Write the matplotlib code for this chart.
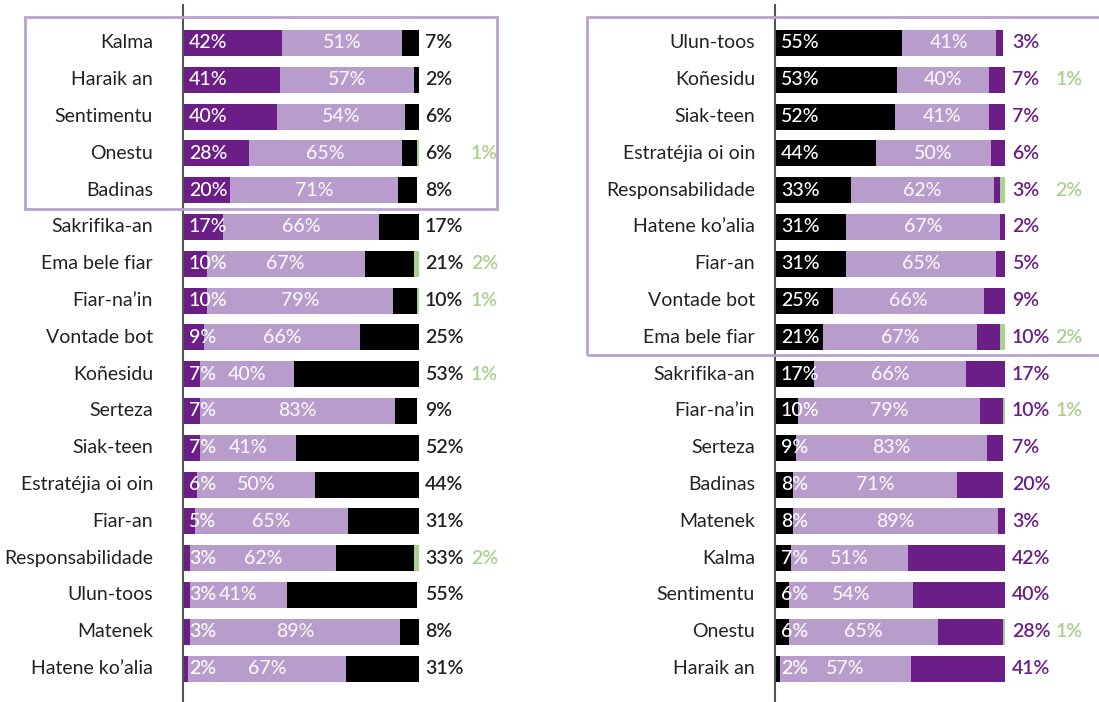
import matplotlib
matplotlib.use("Agg")
import matplotlib.pyplot as plt
from matplotlib.patches import Rectangle

plt.rcParams['font.family'] = ['Lato', 'DejaVu Sans']

# ---- data (left panel order) ----
categories = ["Kalma", "Haraik an", "Sentimentu", "Onestu", "Badinas",
              "Sakrifika-an", "Ema bele fiar", "Fiar-na\u2019in", "Vontade bot",
              "Koñesidu", "Serteza", "Siak-teen", "Estratéjia oi oin", "Fiar-an",
              "Responsabilidade", "Ulun-toos", "Matenek", "Hatene ko\u2019alia"]
purple = [42, 41, 40, 28, 20, 17, 10, 10, 9, 7, 7, 7, 6, 5, 3, 3, 3, 2]
light = [51, 57, 54, 65, 71, 66, 67, 79, 66, 40, 83, 41, 50, 65, 62, 41, 89, 67]
black = [7, 2, 6, 6, 8, 17, 21, 10, 25, 53, 9, 52, 44, 31, 33, 55, 8, 31]
green = [0, 0, 0, 1, 0, 0, 2, 1, 0, 1, 0, 0, 0, 0, 2, 0, 0, 0]

right_order = ["Ulun-toos", "Koñesidu", "Siak-teen", "Estratéjia oi oin",
               "Responsabilidade", "Hatene ko\u2019alia", "Fiar-an", "Vontade bot",
               "Ema bele fiar", "Sakrifika-an", "Fiar-na\u2019in", "Serteza",
               "Badinas", "Matenek", "Kalma", "Sentimentu", "Onestu", "Haraik an"]

C_PURPLE = '#6a1e86'
C_LIGHT = '#b89ccc'
C_BLACK = '#000000'
C_GREEN = '#a9d08e'
C_TEXT = '#222222'
C_BOX = '#b9a4cc'

W, H = 1099, 702
fig = plt.figure(figsize=(W / 100, H / 100), dpi=100)

row0, step = 43, 36.8
top_px, bot_px = 5, 702
y_top = (top_px - row0) / step
y_bot = (bot_px - row0) / step


def make_ax(x0_px, w100_px):
    ax = fig.add_axes([x0_px / W, 1 - bot_px / H, w100_px / W, (bot_px - top_px) / H])
    ax.set_xlim(0, 100)
    ax.set_ylim(y_bot, y_top)
    for s in ['top', 'right', 'bottom']:
        ax.spines[s].set_visible(False)
    ax.spines['left'].set_color('#555555')
    ax.spines['left'].set_linewidth(1.5)
    ax.spines['left'].set_zorder(5)
    ax.set_xticks([])
    ax.set_yticks([])
    ax.patch.set_alpha(0)
    return ax


FS = 14
bh = 0.71

# ---- left panel ----
axL = make_ax(183, 236)
ys = list(range(len(categories)))
axL.barh(ys, purple, height=bh, color=C_PURPLE)
axL.barh(ys, light, left=purple, height=bh, color=C_LIGHT)
lb2 = [a + b for a, b in zip(purple, light)]
axL.barh(ys, black, left=lb2, height=bh, color=C_BLACK)
lb3 = [a + b for a, b in zip(lb2, black)]
axL.barh(ys, green, left=lb3, height=bh, color=C_GREEN)
for i, cat in enumerate(categories):
    axL.text(-30 / 2.36, i, cat, ha='right', va='center', fontsize=FS, color=C_TEXT)
    axL.text(2.5, i, f"{purple[i]}%", ha='left', va='center', fontsize=FS,
             color='white', fontweight='medium')
    axL.text(purple[i] + light[i] / 2, i, f"{light[i]}%", ha='center', va='center',
             fontsize=FS, color='white', alpha=0.9, fontweight='medium')
    axL.text(102.5, i, f"{black[i]}%", ha='left', va='center', fontsize=FS,
             color=C_TEXT, fontweight='semibold', clip_on=False)
    if green[i]:
        axL.text(122, i, f"{green[i]}%", ha='left', va='center', fontsize=FS,
                 color=C_GREEN, fontweight='semibold', clip_on=False)

# ---- right panel ----
idx = [categories.index(c) for c in right_order]
r_black = [black[k] for k in idx]
r_light = [light[k] for k in idx]
r_purple = [purple[k] for k in idx]
r_green = [green[k] for k in idx]

axR = make_ax(775, 230)
axR.barh(ys, r_black, height=bh, color=C_BLACK)
axR.barh(ys, r_light, left=r_black, height=bh, color=C_LIGHT)
rb2 = [a + b for a, b in zip(r_black, r_light)]
axR.barh(ys, r_purple, left=rb2, height=bh, color=C_PURPLE)
rb3 = [a + b for a, b in zip(rb2, r_purple)]
axR.barh(ys, r_green, left=rb3, height=bh, color=C_GREEN)
for i, cat in enumerate(right_order):
    axR.text(-20 / 2.30, i, cat, ha='right', va='center', fontsize=FS, color=C_TEXT)
    axR.text(2.5, i, f"{r_black[i]}%", ha='left', va='center', fontsize=FS,
             color='white', fontweight='medium')
    axR.text(r_black[i] + r_light[i] / 2, i, f"{r_light[i]}%", ha='center',
             va='center', fontsize=FS, color='white', alpha=0.9, fontweight='medium')
    axR.text(103, i, f"{r_purple[i]}%", ha='left', va='center', fontsize=FS,
             color=C_PURPLE, fontweight='semibold', clip_on=False)
    if r_green[i]:
        axR.text(122, i, f"{r_green[i]}%", ha='left', va='center', fontsize=FS,
                 color=C_GREEN, fontweight='semibold', clip_on=False)

# ---- highlight boxes (figure pixel coords) ----
def box(x0, y0, x1, y1):
    fig.patches.append(Rectangle((x0 / W, 1 - y1 / H), (x1 - x0) / W, (y1 - y0) / H,
                                 transform=fig.transFigure, fill=False,
                                 edgecolor=C_BOX, linewidth=2, zorder=0))

box(25, 17, 497, 209)
box(587, 17, 1110, 355)

fig.savefig("out.png", dpi=100)
